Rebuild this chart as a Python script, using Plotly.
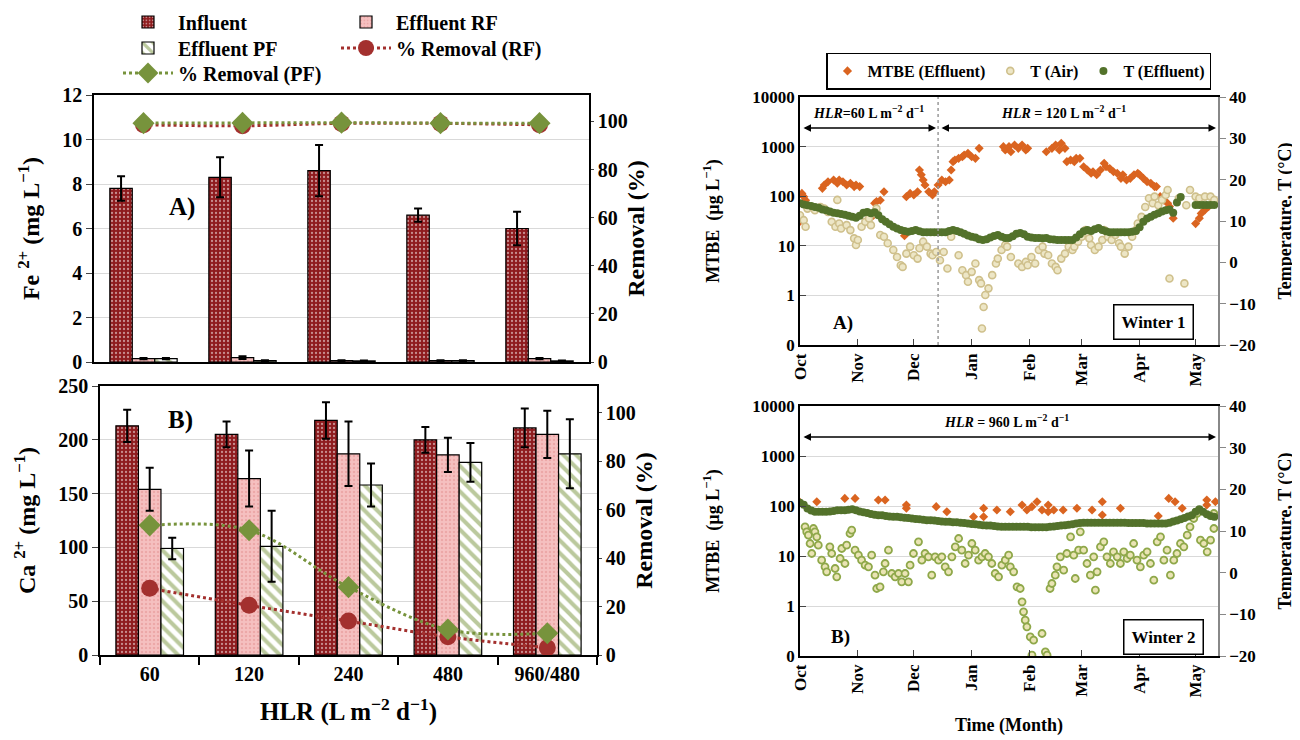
import plotly.graph_objects as go
import pandas as pd

W, H = 1300, 740
FONT = "Liberation Serif"
OFF = 8  # the page body adds an 8 px margin; positions below are reference-image pixels

# ---------------- Left panels: Fe2+ and Ca2+ ----------------
hlr = ["60", "120", "240", "480", "960/480"]
fe_inf = [7.8, 8.3, 8.6, 6.6, 6.0]
fe_inf_err = [0.55, 0.9, 1.15, 0.3, 0.75]
fe_rf = [0.15, 0.2, 0.06, 0.06, 0.15]
fe_rf_err = [0.03, 0.06, 0.02, 0.02, 0.03]
fe_pf = [0.15, 0.06, 0.05, 0.06, 0.05]
fe_pf_err = [0.03, 0.02, 0.02, 0.02, 0.02]
fe_rem_rf = [98.6, 98.2, 99.2, 99.2, 98.6]
fe_rem_pf = [99.3, 99.4, 99.5, 99.3, 99.3]

ca_inf = [213, 205, 218, 200, 211]
ca_inf_err = [15, 12, 17, 12, 18]
ca_rf = [154, 164, 187, 186, 205]
ca_rf_err = [20, 26, 30, 16, 22]
ca_pf = [99, 101, 158, 179, 187]
ca_pf_err = [10, 33, 20, 18, 32]
ca_rem_rf = [27.5, 20.5, 14, 7.5, 3]
ca_rem_pf = [53.5, 51.5, 28, 10.5, 9]

# ---------------- Right panels: MTBE & temperature (day from 1 Oct) ----------------
mtbe_a_day = [0, 1, 2, 3, 12, 13, 15, 18, 20, 21, 23, 25, 27, 29, 30, 32, 39, 40, 41, 43, 45, 56, 57, 59, 61,
              63, 64, 65, 66, 67, 69, 71, 72, 74, 76, 78, 80, 81, 82, 83, 85, 87, 88, 90, 92, 94, 96, 109, 110,
              112, 113, 115, 117, 119, 121, 122, 132, 135, 137, 139, 140, 142, 143, 145, 147, 148, 150, 152,
              154, 156, 157, 159, 161, 163, 164, 166, 168, 170, 172, 173, 175, 177, 179, 181, 182, 184, 186,
              188, 190, 191, 193, 195, 197, 198, 200, 212, 214, 215, 217, 219, 221]
mtbe_a_val = [31, 114, 98, 83, 144, 168, 196, 212, 182, 212, 196, 168, 182, 156, 168, 156, 40, 72, 78, 83, 123,
              16, 98, 114, 106, 123, 337, 270, 212, 168, 123, 106, 123, 168, 212, 196, 212, 337, 497, 537, 580,
              626, 677, 731, 626, 580, 922, 998, 853, 1000, 790, 1075, 922, 1075, 853, 922, 790, 922, 1075, 853,
              1164, 922, 497, 537, 497, 580, 580, 393, 337, 290, 312, 270, 337, 459, 393, 363, 312, 290, 229,
              270, 212, 229, 270, 290, 270, 229, 196, 182, 156, 156, 98, 83, 72, 62, 36, 28, 36, 45, 53, 62, 72]

tair_a_day = [0, 2, 3, 4, 8, 11, 13, 15, 17, 19, 20, 21, 22, 25, 27, 29, 30, 31, 33, 35, 37, 38, 40, 41, 43,
              45, 47, 50, 52, 54, 55, 57, 59, 61, 63, 64, 66, 68, 70, 71, 73, 75, 77, 79, 81, 85, 87, 89, 90,
              92, 94, 96, 97, 97.5, 98.4, 99.3, 101, 103, 105, 106, 108, 110, 111, 113, 117, 119, 121, 122,
              124, 126, 128, 130, 131, 133, 135, 137, 138, 140, 142, 144, 146, 147, 149, 151, 153, 155, 156,
              158, 160, 162, 163, 165, 167, 169, 171, 172, 174, 176, 178, 180, 181, 183, 185, 187, 189, 190,
              192, 194, 196, 197, 198, 203, 206, 207, 209, 212, 214, 217, 220, 222]
tair_a_val = [11.4, 10.2, 8.6, 13.0, 12.6, 13.4, 13.0, 12.2, 9.8, 8.6, 15.1, 9.4, 8.2, 9.0, 7.8, 5.8, 4.2, 5.4,
              8.6, 9.8, 10.6, 9.0, 11.8, 13.0, 6.6, 6.2, 4.6, 3.0, 1.3, -0.7, -1.1, 2.1, 3.8, 1.7, 0.9, 3.4,
              5.0, 3.8, 2.1, 1.7, 2.5, 0.5, 2.5, -1.5, 6.2, 1.7, -1.9, -3.1, -4.7, -2.3, -0.3, -4.3, -5.1,
              -16.0, -10.8, -7.9, -6.3, -3.1, -0.3, 0.9, 3.0, 4.2, 3.8, 1.3, -0.3, -1.1, 0.1, -0.7, 1.3, -0.3,
              3.0, 3.8, 2.1, 1.7, -0.3, -1.1, -1.9, 0.9, 2.1, 3.8, 3.0, 3.8, 5.0, 6.2, 7.8, 5.8, 4.2, 3.0, 3.8,
              5.4, 7.8, 6.2, 5.4, 6.6, 4.6, 3.8, 2.1, 3.8, 6.2, 7.8, 9.4, 11.0, 13.4, 15.5, 14.3, 15.9, 13.8,
              15.1, 16.3, 17.5, -3.9, 15.5, -5.1, 13.8, 17.5, 15.9, 15.5, 15.9, 15.9, 15.1]

# effluent temperature, read every 2nd day from 1 Oct (None = no data)
teff_a = [14.3, 14.0, 13.8, 13.6, 13.4, 13.2, 12.8, 12.6, 12.3, 12.0, 11.9, 11.7, 11.5, 11.3, 11.0, 10.8,
          11.3, 12.0, 12.2, 11.9, 12.1, 11.4, 10.4, 9.8, 9.2, 8.6, 8.2, 7.8, 7.6, 7.4, 7.6, 7.8, 7.5, 7.3,
          7.3, 7.3, 7.3, 7.3, 7.3, 7.3, 7.6, 7.8, 7.6, 7.3, 6.9, 6.5, 6.2, 6.0, 5.6, 5.4, 5.6, 6.0, 6.4, 6.6,
          6.2, 5.9, 5.9, 6.3, 6.9, 7.1, 6.8, 6.2, 6.0, 5.9, 5.9, 5.8, 5.9, 5.6, 5.5, 5.4, 5.4, 5.4, 5.4, 5.4,
          6.0, 6.8, 7.5, 7.8, 7.6, 8.0, 8.3, 7.8, 7.5, 7.3, 7.3, 7.3, 7.3, 7.3, 7.3, 7.4, 7.6, 8.5, 9.8, 10.6,
          11.0, 11.5, 11.9, 12.3, 12.6, 12.8, 12.0, 14.5, 15.8, None, None, None, 13.9, 13.9, 13.9, 13.9,
          13.9, 13.9]

mtbe_b_day = [0, 9, 24, 29.5, 42, 45.6, 57, 57, 73, 78.7, 93, 98.4, 98.4, 105.5, 112.7, 119, 121.6, 124.3, 127,
              129.7, 133, 133, 136, 141, 148.4, 156.5, 162, 162, 171.7, 192, 197.6, 201, 204.8, 218, 218, 222.6]
mtbe_b_val = [118, 122, 142, 142, 132, 132, 105, 90, 97, 77, 61, 90, 61, 83, 77, 105, 83, 97, 122, 83, 105, 77,
              83, 83, 90, 83, 122, 66, 90, 63, 142, 122, 90, 132, 105, 122]

tair_b_day = [2.7, 3.6, 4.5, 5.4, 6.3, 7.2, 8, 9, 9.8, 11.6, 13.4, 14.3, 16, 17, 18.8, 19.7, 21.5, 22.4, 24.1,
              25, 26.8, 27.7, 29.5, 31.3, 33, 34.9, 36.7, 38.4, 40.2, 41.1, 42.9, 44.7, 45.6, 47.4, 49.2, 51,
              52.8, 54.5, 56.3, 58.1, 59, 60.8, 63.5, 65.3, 67, 68.8, 70.6, 72.4, 74.2, 76, 77.8, 79.6, 81.4,
              83.2, 85, 86.7, 88.5, 90.3, 92.1, 93.9, 95.7, 97.5, 99.2, 101, 102.8, 104.6, 106.4, 108.2, 110,
              111.8, 112.7, 114.5, 116.3, 118, 119, 119.8, 120.7, 121.6, 123.4, 125.2, 124.3, 129.7, 131.5,
              132.4, 134, 135, 136.8, 137.7, 139.5, 141.3, 143, 145, 146.7, 147.5, 149.3, 150.2, 152, 153.8,
              155.6, 157.4, 158.3, 159.2, 161, 162.8, 164.5, 166.3, 168, 170, 171.7, 173.5, 175.3, 177, 178.8,
              180.6, 182.4, 184.2, 186, 187.8, 189.6, 191.4, 193.2, 195, 196.7, 198.5, 200.3, 202, 203.9,
              205.7, 207.5, 209, 211, 212.8, 214.6, 216.4, 218.2, 220, 221.8, 221.8]
tair_b_val = [11.0, 9.8, 9.0, 7.0, 4.6, 10.6, 9.8, 8.6, 6.6, 3.0, 1.4, 0.2, 6.2, 4.6, 1.0, -1.0, 3.4, 5.8, 2.2,
              6.6, 9.4, 10.2, 5.4, 4.2, 3.0, 1.8, 1.4, 4.2, -0.6, -3.8, -3.4, 0.2, 2.2, 5.4, -0.2, -1.0, -0.2,
              -2.2, -0.2, -2.2, 1.8, 4.6, 7.4, 3.0, 4.6, 3.8, -0.6, 3.8, 3.0, 3.8, 1.4, 0.2, 3.8, 6.2, 8.2, 5.4,
              2.2, 4.2, 7.0, 5.4, 3.0, 3.8, 4.6, 3.8, 2.2, -0.2, -1.0, 1.8, 3.0, 4.2, 1.4, 0.2, -3.4, -3.8,
              -7.0, -9.4, -11.4, -13.0, -15.4, -16.2, -19.8, -14.6, -19.0, -19.8, -3.8, -2.6, -0.6, 1.4, 3.8,
              0.6, 4.6, 8.6, 4.2, -1.4, 5.4, 9.8, 5.4, 2.2, -0.6, 3.8, -4.2, 0.2, 6.2, 7.4, 3.8, 2.2, 5.0, 3.8,
              2.2, 5.0, 3.4, 4.2, 7.0, 3.0, 1.4, 4.2, 5.0, 2.2, -1.8, 7.4, 8.6, 3.0, 5.4, -0.6, 3.0, 4.6, 7.0,
              6.2, 9.0, 11.0, 13.0, 14.2, 7.8, 7.0, 5.0, 7.8, 14.2, 10.6]

teff_b = [16.8, 16.3, 15.4, 14.9, 14.6, 14.6, 14.6, 14.6, 14.7, 14.8, 15.0, 15.0, 15.0, 15.1, 15.2, 15.0,
          14.7, 14.5, 14.3, 14.1, 13.9, 13.8, 13.8, 13.6, 13.5, 13.4, 13.4, 13.3, 13.2, 13.1, 13.0, 12.9,
          12.8, 12.7, 12.6, 12.6, 12.5, 12.4, 12.3, 12.2, 12.2, 12.1, 12.1, 12.0, 11.9, 11.8, 11.7, 11.6,
          11.5, 11.4, 11.3, 11.3, 11.2, 11.1, 11.0, 11.0, 11.0, 11.0, 11.0, 11.0, 11.0, 11.0, 10.9, 10.9,
          10.9, 10.9, 10.9, 11.0, 11.1, 11.2, 11.3, 11.4, 11.5, 11.6, 11.8, 11.9, 12.0, 12.0, 12.0, 12.0,
          12.0, 12.0, 12.0, 12.0, 12.0, 12.0, 12.0, 12.0, 11.9, 11.9, 11.9, 11.9, 11.9, 11.8, 11.8, 11.8,
          11.8, 11.8, 11.8, 12.0, 12.3, 12.5, 12.8, 13.1, 13.5, 13.8, 14.6, 15.2, 14.6, 14.0, 13.6, 13.4]

mtbe_ticks = [0.1, 1, 10, 100, 1000, 10000]
mtbe_ticktext = ["0", "1", "10", "100", "1000", "10000"]

BASE = pd.Timestamp("2010-10-01")


def to_dates(days):
    return [BASE + pd.Timedelta(days=float(d)) for d in days]


def px(x):
    return (x - OFF) / W


def py(y):
    return 1 - (y - OFF) / H


# colours
INF = "#8E1B1E"
RF_BAR = "#F5C0C0"
RF_DOT = "#E28F8F"
PF_GREEN = "#77933C"
RF_LINE = "#A3302E"
MTBE_C = "#DA6420"
TEFF_C = "#53722B"
GRID = "#D9D9D9"

fig = go.Figure()

err = dict(type="data", color="black", thickness=2, width=4)


def add_bars(xa, ya, inf, inf_e, rf, rf_e, pf, pf_e, show):
    fig.add_trace(go.Bar(x=hlr, y=inf, xaxis=xa, yaxis=ya, name="Influent", legend="legend",
                         showlegend=show,
                         marker=dict(color=INF, line=dict(color="black", width=1.2),
                                     pattern=dict(shape=".", fgcolor="white", size=4, solidity=0.25,
                                                  fillmode="overlay")),
                         error_y=dict(err, array=inf_e)))
    fig.add_trace(go.Bar(x=hlr, y=rf, xaxis=xa, yaxis=ya, name="Effluent RF", legend="legend",
                         showlegend=show,
                         marker=dict(color=RF_BAR, line=dict(color="black", width=1.2),
                                     pattern=dict(shape=".", fgcolor=RF_DOT, size=4, solidity=0.3,
                                                  fillmode="overlay")),
                         error_y=dict(err, array=rf_e)))
    fig.add_trace(go.Bar(x=hlr, y=pf, xaxis=xa, yaxis=ya, name="Effluent PF", legend="legend2",
                         showlegend=show,
                         marker=dict(color="white", line=dict(color="black", width=1.2),
                                     pattern=dict(shape="\\", fgcolor=PF_GREEN, size=9, solidity=0.45,
                                                  fillmode="overlay")),
                         error_y=dict(err, array=pf_e)))


def add_removal(xa, ya, rrf, rpf, show):
    fig.add_trace(go.Scatter(x=hlr, y=rrf, xaxis=xa, yaxis=ya, name="% Removal (RF)", legend="legend2",
                             showlegend=show, mode="lines+markers",
                             line=dict(color=RF_LINE, dash="dot", width=3, shape="spline"),
                             marker=dict(symbol="circle", size=17, color=RF_LINE)))
    fig.add_trace(go.Scatter(x=hlr, y=rpf, xaxis=xa, yaxis=ya, name="% Removal (PF)", legend="legend3",
                             showlegend=show, mode="lines+markers",
                             line=dict(color=PF_GREEN, dash="dot", width=3, shape="spline"),
                             marker=dict(symbol="diamond", size=17, color=PF_GREEN)))


add_bars("x", "y", fe_inf, fe_inf_err, fe_rf, fe_rf_err, fe_pf, fe_pf_err, True)
add_removal("x", "y2", fe_rem_rf, fe_rem_pf, True)
add_bars("x2", "y3", ca_inf, ca_inf_err, ca_rf, ca_rf_err, ca_pf, ca_pf_err, False)
add_removal("x2", "y4", ca_rem_rf, ca_rem_pf, False)


def add_time(xa, ya_log, ya_t, mday, mval, tday, tval, teff, air_style, show):
    fig.add_trace(go.Scatter(x=to_dates(mday), y=mval, xaxis=xa, yaxis=ya_log, mode="markers",
                             name="MTBE (Effluent)", legend="legend4", showlegend=show,
                             marker=dict(symbol="diamond", size=7, color=MTBE_C)))
    fig.add_trace(go.Scatter(x=to_dates(tday), y=tval, xaxis=xa, yaxis=ya_t, mode="markers",
                             name="T (Air)", legend="legend4", showlegend=show, marker=air_style))
    eday = [2 * i for i in range(len(teff))]
    fig.add_trace(go.Scatter(x=to_dates(eday), y=teff, xaxis=xa, yaxis=ya_t, mode="markers",
                             name="T (Effluent)", legend="legend4", showlegend=show,
                             marker=dict(symbol="circle", size=8, color=TEFF_C)))


air_a = dict(symbol="circle", size=7, color="#EDE6C6", line=dict(color="#CFC08C", width=1.6))
air_b = dict(symbol="circle", size=7, color="#EAE4B4", line=dict(color="#8FA84A", width=1.8))
add_time("x3", "y5", "y6", mtbe_a_day, mtbe_a_val, tair_a_day, tair_a_val, teff_a, air_a, True)
add_time("x4", "y7", "y8", mtbe_b_day, mtbe_b_val, tair_b_day, tair_b_val, teff_b, air_b, False)

tick_l = dict(family=FONT, size=20, color="black", weight="bold")
title_l = dict(family=FONT, size=24, color="black", weight="bold")
tick_r = dict(family=FONT, size=17, color="black", weight="bold")
title_r = dict(family=FONT, size=18, color="black", weight="bold")

axline = dict(showline=True, linecolor="black", linewidth=1.5)

LA_X = [px(94), px(589)]
LA_Y = [py(362), py(95)]
LB_X = [px(100), px(597)]
LB_Y = [py(655), py(386)]
RA_X = [px(800), px(1218)]
RA_Y = [py(345), py(97)]
RB_X = [px(800), px(1218)]
RB_Y = [py(656), py(406)]

xr = [BASE, BASE + pd.Timedelta(days=224)]

leg_font = dict(family=FONT, size=20, weight="bold")
leg_common = dict(xanchor="left", yanchor="middle", orientation="h", itemwidth=50, font=leg_font,
                  bgcolor="rgba(0,0,0,0)", xref="container", yref="container")

fig.update_layout(
    width=W, height=H,
    margin=dict(l=0, r=0, t=0, b=0, autoexpand=False),
    paper_bgcolor="white", plot_bgcolor="white",
    font=dict(family=FONT, color="black", weight="bold"),
    barmode="group", bargap=0.32, bargroupgap=0,
    xaxis=dict(domain=LA_X, anchor="y", type="category", mirror=True, ticks="", showticklabels=False,
               automargin=False, **axline),
    yaxis=dict(domain=LA_Y, anchor="x", range=[0, 12], dtick=2, showgrid=True, gridcolor=GRID,
               ticks="outside", ticklen=6, tickfont=tick_l, automargin=False, zeroline=False,
               title=dict(text="Fe <sup>2+</sup> (mg L<sup>−1</sup>)", font=title_l, standoff=16), **axline),
    yaxis2=dict(overlaying="y", side="right", anchor="x", range=[0, 111], dtick=20, showgrid=False,
                ticks="outside", ticklen=3, tickfont=tick_l, automargin=False, zeroline=False,
                title=dict(text="Removal (%)", font=title_l, standoff=0), **axline),
    xaxis2=dict(domain=LB_X, anchor="y3", type="category", mirror=True, ticks="outside", ticklen=8,
                tickson="boundaries", tickcolor="black", tickwidth=1.5, tickfont=tick_l, automargin=False,
                title=dict(text="HLR (L m<sup>−2</sup> d<sup>−1</sup>)", font=dict(title_l, size=25),
                           standoff=19), **axline),
    yaxis3=dict(domain=LB_Y, anchor="x2", range=[0, 250], dtick=50, showgrid=True, gridcolor=GRID,
                ticks="outside", ticklen=6, tickfont=tick_l, automargin=False, zeroline=False,
                title=dict(text="Ca <sup>2+</sup> (mg L<sup>−1</sup>)", font=title_l, standoff=16), **axline),
    yaxis4=dict(overlaying="y3", side="right", anchor="x2", range=[0, 111], dtick=20, showgrid=False,
                ticks="outside", ticklen=3, tickfont=tick_l, automargin=False, zeroline=False,
                title=dict(text="Removal (%)", font=title_l, standoff=0), **axline),
    xaxis3=dict(domain=RA_X, anchor="y5", type="date", range=xr, dtick="M1", tick0=BASE, tickformat="%b",
                tickangle=-90, ticks="inside", ticklen=6, tickcolor="#444", tickfont=tick_r, mirror=True,
                showgrid=False, automargin=False, **axline),
    yaxis5=dict(domain=RA_Y, anchor="x3", type="log", range=[-1, 4], tickvals=mtbe_ticks,
                ticktext=mtbe_ticktext, showgrid=True, gridcolor=GRID, ticks="inside", ticklen=6,
                tickcolor="#444", tickfont=tick_r, automargin=False, zeroline=False,
                title=dict(text="MTBE  (µg L<sup>−1</sup>)", font=title_r, standoff=28), **axline),
    yaxis6=dict(overlaying="y5", side="right", anchor="x3", range=[-20, 40], dtick=10, showgrid=False,
                ticks="outside", ticklen=6, tickcolor="#888", tickfont=tick_r, automargin=False,
                zeroline=False, showline=True, linecolor="#888", linewidth=1.5,
                title=dict(text="Temperature, T (°C)", font=title_r, standoff=24)),
    xaxis4=dict(domain=RB_X, anchor="y7", type="date", range=xr, dtick="M1", tick0=BASE, tickformat="%b",
                tickangle=-90, ticks="inside", ticklen=6, tickcolor="#444", tickfont=tick_r, mirror=True,
                showgrid=False, automargin=False,
                title=dict(text="Time (Month)", font=title_r, standoff=22), **axline),
    yaxis7=dict(domain=RB_Y, anchor="x4", type="log", range=[-1, 4], tickvals=mtbe_ticks,
                ticktext=mtbe_ticktext, showgrid=True, gridcolor=GRID, ticks="inside", ticklen=6,
                tickcolor="#444", tickfont=tick_r, automargin=False, zeroline=False,
                title=dict(text="MTBE  (µg L<sup>−1</sup>)", font=title_r, standoff=28), **axline),
    yaxis8=dict(overlaying="y7", side="right", anchor="x4", range=[-20, 40], dtick=10, showgrid=False,
                ticks="outside", ticklen=6, tickcolor="#888", tickfont=tick_r, automargin=False,
                zeroline=False, showline=True, linecolor="#888", linewidth=1.5,
                title=dict(text="Temperature, T (°C)", font=title_r, standoff=24)),
    legend=dict(leg_common, x=px(118), y=py(22), entrywidth=153, entrywidthmode="pixels"),
    legend2=dict(leg_common, x=px(118), y=py(48), entrywidth=153, entrywidthmode="pixels"),
    legend3=dict(leg_common, x=px(118), y=py(73)),
    legend4=dict(x=px(826), y=py(71), xanchor="left", yanchor="middle", orientation="h",
                 xref="container", yref="container",
                 font=dict(family=FONT, size=16, weight="bold"), bordercolor="black", borderwidth=1.5,
                 bgcolor="white", itemwidth=30),
)

ann = []


def label(txt, xx, yy, size, **kw):
    ann.append(dict(x=px(xx), y=py(yy), xref="paper", yref="paper", text=txt, showarrow=False,
                    xanchor="center", yanchor="middle", font=dict(family=FONT, size=size, color="black"),
                    **kw))


label("<b>A)</b>", 182, 207, 25)
label("<b>B)</b>", 180, 420, 25)
label("<b>A)</b>", 843, 323, 19)
label("<b>B)</b>", 840, 637, 19)
label("<b>Winter 1</b>", 1153, 322, 17, bordercolor="black", borderwidth=1.5, borderpad=7, bgcolor="white")
label("<b>Winter 2</b>", 1163, 637, 17, bordercolor="black", borderwidth=1.5, borderpad=7, bgcolor="white")
label("<i>HLR</i>=60 L m<sup>−2</sup> d<sup>−1</sup>", 868, 112, 14)
label("<i>HLR</i> = 120 L m<sup>−2</sup> d<sup>−1</sup>", 1063, 112, 14)
label("<i>HLR</i> = 960 L m<sup>−2</sup> d<sup>−1</sup>", 1006, 421, 14)

for x0, x1, yy in [(802, 936, 128), (940, 1216, 128), (802, 1216, 437)]:
    ann.append(dict(x=px(x1), y=py(yy), xref="paper", yref="paper", ax=-(x1 - x0), ay=0, axref="pixel",
                    ayref="pixel", text="", showarrow=True, arrowhead=2, startarrowhead=2, arrowsize=1,
                    startarrowsize=1, arrowwidth=1.5, arrowcolor="black", arrowside="end+start",
                    standoff=0, startstandoff=0))
fig.update_layout(annotations=ann)

fig.add_shape(type="line", xref="x3", yref="paper", x0=BASE + pd.Timedelta(days=74),
              x1=BASE + pd.Timedelta(days=74), y0=py(345), y1=py(97),
              line=dict(color="#999999", width=1.5, dash="dot"))

fig.write_html("out.html")
